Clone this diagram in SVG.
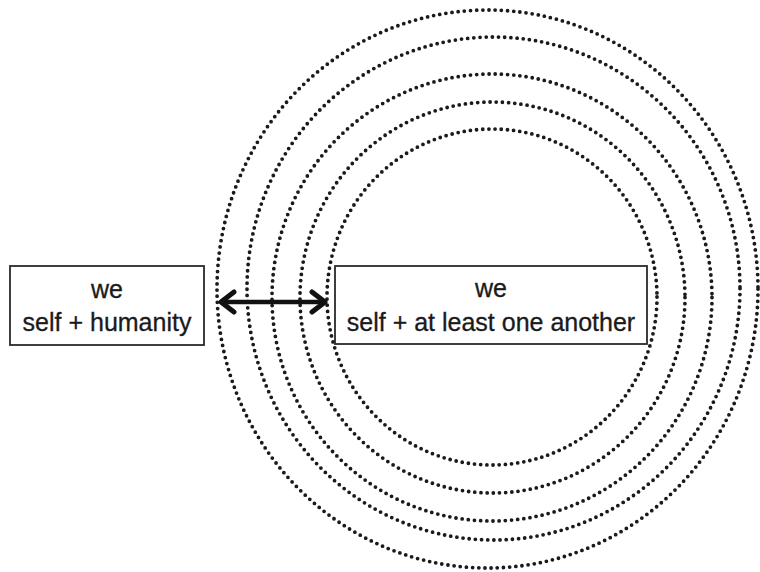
<svg xmlns="http://www.w3.org/2000/svg" width="760" height="572" viewBox="0 0 760 572">
<style>
.ring{fill:none;stroke:#1a1a1a;stroke-width:3.8;stroke-dasharray:0 6.2;stroke-linecap:round}
.box{fill:#fff;stroke:#2a2a2a;stroke-width:1.8}
.lbl{font-family:"Liberation Sans",Arial,sans-serif;font-size:25px;fill:#1a1a1a;text-anchor:middle;stroke:#1a1a1a;stroke-width:0.3}
.conn{fill:none;stroke:#111;stroke-width:4.5}
</style>
<defs>
<marker id="chev" markerUnits="userSpaceOnUse" viewBox="0 0 22 26" markerWidth="22" markerHeight="26" refX="17" refY="13" orient="auto-start-reverse">
<path d="M4,3 L17,13 L4,23" fill="none" stroke="#111" stroke-width="5" stroke-linecap="round" stroke-linejoin="round"/>
</marker>
</defs>
<g id="rings">
<ellipse class="ring" cx="487.5" cy="289" rx="270.5" ry="279"/>
<ellipse class="ring" cx="493.5" cy="288.5" rx="246.5" ry="251.5"/>
<ellipse class="ring" cx="492" cy="297.5" rx="220" ry="223.5"/>
<ellipse class="ring" cx="492.5" cy="297.5" rx="192.5" ry="195.5"/>
<ellipse class="ring" cx="492" cy="297" rx="165" ry="168"/>
</g>
<g id="node-humanity">
<rect class="box" x="10" y="266" width="194" height="79"/>
<text class="lbl" x="107" y="298">we</text>
<text class="lbl" x="107" y="331">self + humanity</text>
</g>
<g id="node-another">
<rect class="box" x="335" y="266" width="312" height="78"/>
<text class="lbl" x="491" y="297">we</text>
<text class="lbl" x="491" y="331">self + at least one another</text>
</g>
<g id="connectors">
<path class="conn" d="M221,302 L325,302" marker-start="url(#chev)" marker-end="url(#chev)"/>
</g>
</svg>
